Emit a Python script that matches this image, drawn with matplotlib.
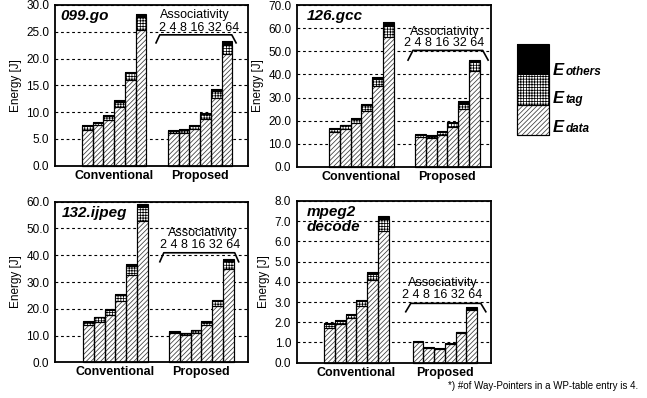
import numpy as np
import matplotlib
matplotlib.use('Agg')
import matplotlib.pyplot as plt

plt.rcParams['font.family'] = ['Liberation Sans', 'DejaVu Sans']
plt.rcParams['hatch.linewidth'] = 0.55

# ---- data (E_data, E_tag, E_others per associativity) ----
assoc = ['2', '4', '8', '16', '32', '64']
groups = ['Conventional', 'Proposed']

go_conv_data = [6.7, 7.5, 8.5, 10.9, 15.9, 25.4]
go_conv_tag  = [0.6, 0.5, 0.8, 1.0, 1.3, 2.4]
go_conv_oth  = [0.2, 0.2, 0.2, 0.3, 0.3, 0.6]
go_prop_data = [6.05, 6.05, 6.85, 8.7, 12.65, 20.8]
go_prop_tag  = [0.5, 0.55, 0.6, 0.85, 1.2, 1.8]
go_prop_oth  = [0.15, 0.2, 0.2, 0.3, 0.4, 0.7]

gcc_conv_data = [15.1, 16.3, 19.1, 24.3, 35.0, 56.1]
gcc_conv_tag  = [1.3, 1.6, 1.6, 2.3, 3.0, 5.0]
gcc_conv_oth  = [0.5, 0.4, 0.5, 0.6, 0.9, 1.4]
gcc_prop_data = [12.8, 12.4, 13.9, 17.4, 25.0, 41.6]
gcc_prop_tag  = [0.9, 0.9, 1.1, 1.5, 2.4, 3.7]
gcc_prop_oth  = [0.6, 0.6, 0.6, 0.7, 0.9, 1.1]

ijpeg_conv_data = [14.1, 15.2, 17.8, 22.9, 32.8, 52.7]
ijpeg_conv_tag  = [1.1, 1.6, 1.7, 2.1, 3.2, 5.5]
ijpeg_conv_oth  = [0.2, 0.3, 0.3, 0.4, 0.8, 0.8]
ijpeg_prop_data = [10.8, 10.1, 11.0, 14.0, 21.2, 35.0]
ijpeg_prop_tag  = [0.6, 0.7, 0.9, 1.2, 1.6, 2.8]
ijpeg_prop_oth  = [0.3, 0.3, 0.3, 0.4, 0.5, 0.9]

mpeg_conv_data = [1.74, 1.9, 2.23, 2.82, 4.07, 6.5]
mpeg_conv_tag  = [0.16, 0.15, 0.14, 0.22, 0.33, 0.6]
mpeg_conv_oth  = [0.05, 0.05, 0.05, 0.07, 0.1, 0.15]
mpeg_prop_data = [1.0, 0.71, 0.68, 0.92, 1.48, 2.6]
mpeg_prop_tag  = [0.02, 0.02, 0.02, 0.02, 0.02, 0.07]
mpeg_prop_oth  = [0.04, 0.04, 0.04, 0.04, 0.04, 0.07]

titles = ['099.go', '126.gcc', '132.ijpeg', 'mpeg2\ndecode']
ymaxes = [30, 70, 60, 8]
ysteps = [5, 10, 10, 1]

# ---- layout (figure fractions / data units) ----
rects = [[0.085, 0.584, 0.298, 0.4035],
         [0.459, 0.581, 0.2994, 0.406],
         [0.085, 0.0897, 0.298, 0.4035],
         [0.4586, 0.0887, 0.2998, 0.4063]]
xlims = [(-3.0, 14.94), (-3.48, 14.54), (-3.13, 14.82), (-3.04, 15.0)]
prop_off = [8.0, 8.0, 8.0, 8.25]
title_x = [0.026, 0.05, 0.035, 0.05]
br_x = [[6.4, 6.75, 13.45, 13.85], [6.85, 7.31, 13.8, 14.3],
        [6.63, 7.0, 13.6, 13.97], [7.1, 7.57, 14.08, 14.55]]
br_y = [(0.764, 0.814), (0.66, 0.72), (0.626, 0.682), (0.315, 0.367)]
dig_pos = [(10.4, 0.857), (10.2, 0.767), (10.4, 0.73), (10.5, 0.418)]
asc_pos = [(10.0, 0.938), (10.3, 0.835), (10.6, 0.803), (10.5, 0.492)]

DATA_HATCH = '///////'
TAG_HATCH = '++++++'


def draw_stack(ax, x, d, t, o):
    d = np.asarray(d, float)
    t = np.asarray(t, float)
    o = np.asarray(o, float)
    ax.bar(x, d, width=1.0, color='white', edgecolor='#3a3a3a', hatch=DATA_HATCH, linewidth=0)
    ax.bar(x, t, width=1.0, bottom=d, color='white', edgecolor='black', hatch=TAG_HATCH, linewidth=0)
    ax.bar(x, o, width=1.0, bottom=d + t, color='black', linewidth=0)
    ax.bar(x, d, width=1.0, fill=False, edgecolor='black', linewidth=0.8, clip_on=False)
    ax.bar(x, t, width=1.0, bottom=d, fill=False, edgecolor='black', linewidth=0.8, clip_on=False)
    ax.bar(x, d + t + o, width=1.0, fill=False, edgecolor='black', linewidth=0.8, clip_on=False)


fig = plt.figure(figsize=(6.47, 3.98), dpi=100)

panels = [
    (go_conv_data, go_conv_tag, go_conv_oth, go_prop_data, go_prop_tag, go_prop_oth),
    (gcc_conv_data, gcc_conv_tag, gcc_conv_oth, gcc_prop_data, gcc_prop_tag, gcc_prop_oth),
    (ijpeg_conv_data, ijpeg_conv_tag, ijpeg_conv_oth, ijpeg_prop_data, ijpeg_prop_tag, ijpeg_prop_oth),
    (mpeg_conv_data, mpeg_conv_tag, mpeg_conv_oth, mpeg_prop_data, mpeg_prop_tag, mpeg_prop_oth),
]

for i, (cd, ct, co, pd, pt, po) in enumerate(panels):
    ax = fig.add_axes(rects[i])
    xc = np.arange(len(assoc))
    xp = xc + prop_off[i]
    draw_stack(ax, xc, cd, ct, co)
    draw_stack(ax, xp, pd, pt, po)

    ax.set_xlim(*xlims[i])
    ax.set_ylim(0, ymaxes[i])
    ax.set_yticks(np.arange(0, ymaxes[i] + ysteps[i] / 2, ysteps[i]))
    ax.yaxis.set_major_formatter(matplotlib.ticker.FormatStrFormatter('%.1f'))
    ax.yaxis.grid(True, linestyle=(0, (2.5, 2.5)), color='black', linewidth=0.8)
    ax.set_axisbelow(True)
    ax.set_xticks([xc.mean(), xp.mean()])
    ax.set_xticklabels(groups, fontweight='bold', fontsize=9)
    ax.tick_params(axis='y', length=0, pad=4, labelsize=8.5)
    ax.tick_params(axis='x', length=0, pad=3)
    for s in ax.spines.values():
        s.set_linewidth(1.3)
    ax.set_ylabel('Energy [J]', fontsize=8.5, labelpad=3)

    ax.text(title_x[i], 0.975, titles[i], transform=ax.transAxes, ha='left', va='top',
            fontsize=11, fontweight='bold', fontstyle='italic', linespacing=1.05)

    tr = ax.get_xaxis_transform()
    y0, y1 = br_y[i]
    ax.plot(br_x[i], [y0, y1, y1, y0], color='black', linewidth=1.2, transform=tr, clip_on=False)
    ax.text(dig_pos[i][0], dig_pos[i][1], ' '.join(assoc), transform=tr, ha='center',
            va='center', fontsize=9)
    ax.text(asc_pos[i][0], asc_pos[i][1], 'Associativity', transform=tr, ha='center',
            va='center', fontsize=9)

# legend box
lax = fig.add_axes([0.799, 0.661, 0.0495, 0.2286])
draw_stack(lax, [0], [1], [1], [1])
lax.set_xlim(-0.5, 0.5)
lax.set_ylim(0, 3)
lax.axis('off')
leg_words = ['others', 'tag', 'data']
leg_y = [0.8116, 0.7404, 0.669]
for w, y in zip(leg_words, leg_y):
    fig.text(0.855, y, 'E', fontsize=12, fontweight='bold', fontstyle='italic', va='baseline')
    fig.text(0.874, y, w, fontsize=8.5, fontweight='bold', fontstyle='italic', va='baseline')

fig.text(0.986, 0.03, '*) #of Way-Pointers in a WP-table entry is 4.', ha='right',
         va='center', fontsize=7)

plt.savefig('out.png', dpi=100)
